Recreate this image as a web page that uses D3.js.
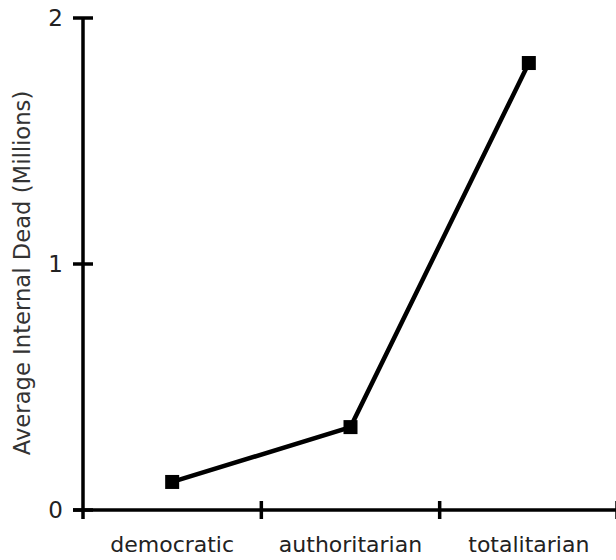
<!DOCTYPE html>
<html><head><meta charset="utf-8">
<script src="https://cdn.jsdelivr.net/npm/d3@7"></script>
<style>html,body{margin:0;padding:0;background:#fff;}svg{display:block;}</style>
</head><body>
<svg id="chart" width="616" height="560"></svg>
<script>
const categories = ["democratic", "authoritarian", "totalitarian"];
const values = [0.114, 0.337, 1.817];
const yTicks = [0, 1, 2];
const yLabel = "Average Internal Dead (Millions)";

const svg = d3.select("#chart");
const x = d3.scaleBand().domain(categories).range([83, 618]).padding(0);
const y = d3.scaleLinear().domain([0, 2]).range([510, 18]);
const font = "'DejaVu Sans', Verdana, sans-serif";

// y axis line
svg.append("line").attr("x1", x.range()[0]).attr("x2", x.range()[0])
  .attr("y1", y(2)).attr("y2", y(0) + 9)
  .attr("stroke", "#000").attr("stroke-width", 3.5);
// x axis line
svg.append("line").attr("x1", x.range()[0] - 10).attr("x2", x.range()[1])
  .attr("y1", y(0)).attr("y2", y(0))
  .attr("stroke", "#000").attr("stroke-width", 3.5);

// y ticks
svg.selectAll(".yt").data(yTicks).enter().append("line")
  .attr("x1", x.range()[0] - 10).attr("x2", x.range()[0] + 10)
  .attr("y1", d => y(d)).attr("y2", d => y(d))
  .attr("stroke", "#000").attr("stroke-width", 3.5);
svg.selectAll(".yl").data(yTicks).enter().append("text")
  .attr("x", x.range()[0] - 20).attr("y", d => y(d)).attr("dy", "0.36em")
  .attr("text-anchor", "end").attr("font-family", font).attr("font-size", 23)
  .attr("fill", "#222").text(d => d);

// x ticks at band boundaries
const bounds = categories.slice(1).map(c => x(c)).concat([x.range()[1] - 1]);
svg.selectAll(".xt").data(bounds).enter().append("line")
  .attr("x1", d => d).attr("x2", d => d)
  .attr("y1", y(0) - 9).attr("y2", y(0) + 9)
  .attr("stroke", "#000").attr("stroke-width", 3.5);
svg.selectAll(".xl").data(categories).enter().append("text")
  .attr("x", d => x(d) + x.bandwidth() / 2).attr("y", 552)
  .attr("text-anchor", "middle").attr("font-family", font).attr("font-size", 22)
  .attr("fill", "#222").text(d => d);

// y label
svg.append("text").attr("transform", `translate(30, ${(y(0) + y(2)) / 2 + 9}) rotate(-90)`)
  .attr("text-anchor", "middle").attr("font-family", font).attr("font-size", 22.7)
  .attr("fill", "#333").text(yLabel);

// line
const pts = categories.map((c, i) => [x(c) + x.bandwidth() / 2, y(values[i])]);
svg.append("path").attr("d", d3.line()(pts)).attr("fill", "none")
  .attr("stroke", "#000").attr("stroke-width", 4.5).attr("stroke-linejoin", "miter");
// markers
svg.selectAll(".m").data(pts).enter().append("rect")
  .attr("x", d => d[0] - 7).attr("y", d => d[1] - 7)
  .attr("width", 14).attr("height", 14).attr("fill", "#000");
</script>
</body></html>
